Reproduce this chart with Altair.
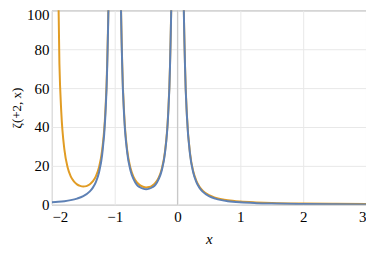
import altair as alt
import pandas as pd

# Orange series (full function), three branches between poles
orange_x = [
    [-1.92, -1.88, -1.85, -1.8, -1.75, -1.7, -1.65, -1.6, -1.55, -1.5, -1.45, -1.4, -1.35, -1.3, -1.25, -1.2, -1.15, -1.12, -1.08, -1.05],
    [-0.95, -0.92, -0.88, -0.85, -0.8, -0.75, -0.7, -0.65, -0.6, -0.55, -0.5, -0.45, -0.4, -0.35, -0.3, -0.25, -0.2, -0.15, -0.12, -0.08, -0.05],
    [0.05, 0.08, 0.12, 0.15, 0.2, 0.25, 0.3, 0.35, 0.4, 0.5, 0.6, 0.7, 0.8, 1.0, 1.25, 1.5, 2.0, 2.5, 3.0],
]
orange_y = [
    [159, 72.4, 47.5, 28.2, 19.3, 14.6, 12.0, 10.5, 9.7, 9.4, 9.6, 10.4, 12.0, 14.6, 19.3, 28.1, 47.3, 72.3, 158, 402],
    [402.7, 158.7, 72.1, 47.2, 27.8, 19.0, 14.3, 11.6, 10.1, 9.3, 8.93, 9.1, 9.9, 11.4, 13.95, 18.6, 27.3, 46.5, 71.4, 158, 401.8],
    [401.6, 157.8, 70.9, 45.8, 26.3, 17.2, 12.3, 9.2, 7.3, 4.93, 3.64, 2.84, 2.29, 1.645, 1.22, 0.935, 0.645, 0.49, 0.395],
]

# Blue series (approximation), two branches: no pole at -2
blue_x = [
    [-2.0, -1.9, -1.8, -1.7, -1.6, -1.5, -1.4, -1.35, -1.3, -1.25, -1.2, -1.15, -1.12, -1.08, -1.05],
    [-0.95, -0.92, -0.88, -0.85, -0.8, -0.75, -0.7, -0.65, -0.6, -0.55, -0.5, -0.45, -0.4, -0.35, -0.3, -0.25, -0.2, -0.15, -0.12, -0.08, -0.05],
    [0.05, 0.08, 0.12, 0.15, 0.2, 0.25, 0.3, 0.35, 0.4, 0.5, 0.6, 0.7, 0.8, 1.0, 1.25, 1.5, 2.0, 2.5, 3.0],
]
blue_y = [
    [1.25, 1.51, 1.87, 2.39, 3.17, 4.44, 6.76, 8.7, 11.7, 16.6, 25.7, 45.2, 70.2, 157, 401],
    [401.1, 157.4, 70.7, 45.8, 26.6, 17.8, 13.2, 10.4, 9.03, 8.3, 8.0, 8.3, 9.03, 10.4, 13.2, 17.8, 26.6, 45.8, 70.7, 157.4, 401.1],
    [400.9, 157.1, 70.2, 45.2, 25.7, 16.6, 11.7, 8.7, 6.76, 4.44, 3.17, 2.39, 1.87, 1.25, 0.84, 0.604, 0.361, 0.242, 0.174],
]

x_ticks = [-2, -1, 0, 1, 2, 3]
y_ticks = [0, 20, 40, 60, 80, 100]

rows = []
for name, xs, ys, order in (("orange", orange_x, orange_y, 0), ("blue", blue_x, blue_y, 1)):
    for seg, (sx, sy) in enumerate(zip(xs, ys)):
        for xv, yv in zip(sx, sy):
            rows.append({"series": name, "seg": f"{name}{seg}", "x": xv, "y": yv, "ord": order})
df = pd.DataFrame(rows)

FONT = "Liberation Serif"

xscale = alt.Scale(domain=[-2, 3], nice=False, zero=False)
yscale = alt.Scale(domain=[0, 100], nice=False)

base = alt.Chart(df)

lines = base.mark_line(clip=True, strokeWidth=2, interpolate="monotone").encode(
    x=alt.X("x:Q", scale=xscale,
            axis=alt.Axis(values=x_ticks, format="d", title="x", titleFontStyle="italic", titleFont=FONT,
                          titleFontWeight="normal", titleFontSize=15, titlePadding=7,
                          labelFont=FONT, labelFontSize=15, labelColor="black",
                          labelExpr="replace(datum.label, '-', '\u2212')",
                          grid=True, gridColor="#e8e8e8", ticks=False,
                          domain=False, labelPadding=5)),
    y=alt.Y("y:Q", scale=yscale,
            axis=alt.Axis(values=y_ticks, format="d", title="\u03b6(+2, x)", titleFont=FONT,
                          titleFontWeight="normal", titleFontSize=13, titlePadding=3,
                          labelFont=FONT, labelFontSize=15, labelColor="black",
                          labelOffset={"condition": {"test": "datum.value == 100", "value": 4}, "value": 0},
                          grid=True, gridColor="#e8e8e8", ticks=False, domain=False,
                          labelPadding=3)),
    color=alt.Color("series:N", scale=alt.Scale(domain=["orange", "blue"], range=["#E19C24", "#5E81B5"]), legend=None),
    detail="seg:N",
    order="ord:Q",
)

zero_df = pd.DataFrame({"x": [0]})
zero_line = alt.Chart(zero_df).mark_rule(color="#c8c8c8", strokeWidth=1.2).encode(
    x=alt.X("x:Q", scale=xscale)
)

chart = alt.layer(zero_line, lines).properties(
    width=315, height=195,
    padding={"left": 44, "top": 2, "right": 0, "bottom": 41},
    autosize=alt.AutoSizeParams(type="none"),
).configure_view(stroke="#888888", strokeWidth=1)

chart.save("out.html", embed_options={"renderer": "svg", "actions": False})
